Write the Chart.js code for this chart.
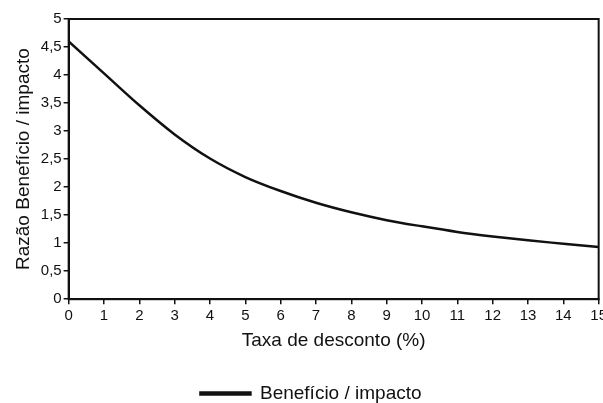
<!DOCTYPE html>
<html>
<head>
<meta charset="utf-8">
<script src="https://cdn.jsdelivr.net/npm/chart.js@4/dist/chart.umd.min.js"></script>
<style>
  html, body { margin: 0; padding: 0; background: #fff; overflow: hidden; width: 603px; height: 403px; }
  #wrap { width: 610px; height: 413px; }
</style>
</head>
<body>
<div id="wrap"><canvas id="chart"></canvas></div>
<script>
// Taxa de desconto (%) e razão benefício / impacto
const taxas = [0, 1, 2, 3, 4, 5, 6, 7, 8, 9, 10, 11, 12, 13, 14, 15];
const razao = [4.60, 4.03, 3.46, 2.94, 2.51, 2.18, 1.93, 1.72, 1.55, 1.41, 1.30, 1.20, 1.12, 1.05, 0.99, 0.93];
const serieNome = "Benefício / impacto";

const fonte = "'Liberation Sans', Arial, sans-serif";

// Moldura do gráfico (topo e direita)
const moldura = {
    id: "moldura",
    afterDraw(chart) {
        const { ctx, chartArea: a } = chart;
        ctx.save();
        ctx.strokeStyle = "#111";
        ctx.lineWidth = 2;
        ctx.strokeRect(a.left, a.top, a.right - a.left, a.bottom - a.top);
        ctx.restore();
    }
};

const ctx = document.getElementById("chart").getContext("2d");
new Chart(ctx, {
    type: "line",
    data: {
        datasets: [{
            label: serieNome,
            data: taxas.map((x, i) => ({ x: x, y: razao[i] })),
            borderColor: "#111",
            backgroundColor: "#111",
            borderWidth: 2.5,
            pointRadius: 0,
            cubicInterpolationMode: "monotone",
            fill: false
        }]
    },
    options: {
        responsive: true,
        maintainAspectRatio: false,
        animation: false,
        layout: { padding: { top: 19, right: 0, left: 12, bottom: 0 } },
        plugins: {
            tooltip: { enabled: false },
            legend: {
                position: "bottom",
                labels: {
                    color: "#111",
                    font: { family: fonte, size: 19 },
                    boxWidth: 50,
                    boxHeight: 2,
                    padding: 0
                }
            }
        },
        scales: {
            x: {
                type: "linear",
                min: 0,
                max: 15,
                ticks: { stepSize: 1, color: "#111", font: { family: fonte, size: 15 }, padding: 3, maxRotation: 0 },
                grid: { display: true, drawOnChartArea: false, drawTicks: true, tickLength: 5, color: "#111", lineWidth: 1.5 },
                border: { display: true, color: "#111", width: 2 },
                title: { display: true, text: "Taxa de desconto (%)", color: "#111", font: { family: fonte, size: 19 }, padding: { top: 1, bottom: 32 } }
            },
            y: {
                min: 0,
                max: 5,
                ticks: {
                    stepSize: 0.5,
                    color: "#111",
                    font: { family: fonte, size: 15 },
                    padding: 2,
                    callback: v => String(v).replace(".", ",")
                },
                grid: { display: true, drawOnChartArea: false, drawTicks: true, tickLength: 5, color: "#111", lineWidth: 1.5 },
                border: { display: true, color: "#111", width: 2 },
                title: { display: true, text: "Razão Benefício / impacto", color: "#111", font: { family: fonte, size: 19 }, padding: { top: 0, bottom: 4 } }
            }
        }
    },
    plugins: [moldura]
});
</script>
</body>
</html>
